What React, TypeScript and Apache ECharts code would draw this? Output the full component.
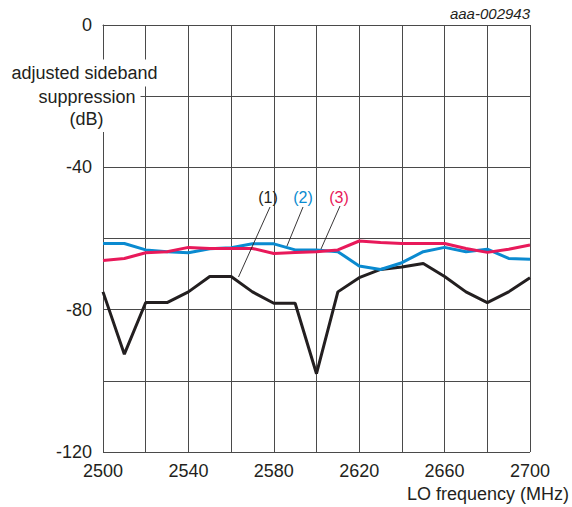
import React, { useEffect, useRef } from "react";
import * as echarts from "echarts";

const freqs = [2500, 2510, 2520, 2530, 2540, 2550, 2560, 2570, 2580, 2590, 2600, 2610, 2620, 2630, 2640, 2650, 2660, 2670, 2680, 2690, 2700];
const series1 = [-75, -92.5, -78, -78, -75, -70.7, -70.7, -75, -78.2, -78.2, -98, -75, -71, -68.7, -68, -67, -70.7, -75, -78, -75, -71];
const series2 = [-61.4, -61.4, -63.2, -63.7, -64, -62.9, -62.6, -61.5, -61.5, -63.2, -63.2, -63.7, -67.7, -68.7, -66.8, -63.7, -62.5, -63.7, -63, -65.6, -65.8];
const series3 = [-66.2, -65.6, -64, -63.7, -62.5, -62.8, -62.8, -62.8, -64.2, -63.9, -63.7, -63.2, -60.7, -61.1, -61.4, -61.4, -61.4, -62.8, -63.9, -63, -61.8];
const seriesNames = ["(1)", "(2)", "(3)"];
const xTickLabels = [2500, 2540, 2580, 2620, 2660, 2700];
const yTickLabels = [0, -40, -80, -120];

const COLORS = ["#231f20", "#0a8ad0", "#e8195a"];
const GRID = "#4a4a4a";
const FONT = "Liberation Sans, Arial, sans-serif";

export default function App() {
  const ref = useRef<HTMLDivElement>(null);
  useEffect(() => {
    if (!ref.current) return;
    const chart = echarts.init(ref.current, null, { renderer: "svg" });
    const mk = (vals: number[]) => freqs.map((f, i) => [f, vals[i]]);
    const textStyle = (text: string, x: number, y: number, extra: any = {}) => ({
      type: "text",
      z: 100,
      style: {
        text,
        x,
        y,
        fill: "#231f20",
        font: `18px ${FONT}`,
        align: "center",
        verticalAlign: "middle",
        ...extra,
      },
    });
    chart.setOption({
      animation: false,
      backgroundColor: "#ffffff",
      grid: { left: 103, right: 42, top: 25, bottom: 55, containLabel: false },
      xAxis: {
        type: "value",
        min: 2500,
        max: 2700,
        interval: 20,
        axisLine: { show: true, lineStyle: { color: GRID, width: 1 } },
        axisTick: { show: false },
        splitLine: { show: true, lineStyle: { color: GRID, width: 1 } },
        axisLabel: {
          margin: 10,
          color: "#231f20",
          fontSize: 18,
          fontFamily: FONT,
          formatter: (v: number) => (xTickLabels.includes(v) ? String(v) : ""),
        },
      },
      yAxis: {
        type: "value",
        min: -120,
        max: 0,
        interval: 20,
        axisLine: { show: true, lineStyle: { color: GRID, width: 1 } },
        axisTick: { show: false },
        splitLine: { show: true, lineStyle: { color: GRID, width: 1 } },
        axisLabel: {
          margin: 11,
          color: "#231f20",
          fontSize: 18,
          fontFamily: FONT,
          formatter: (v: number) => (yTickLabels.includes(v) ? String(v) : ""),
        },
      },
      series: [
        { name: seriesNames[0], type: "line", data: mk(series1), symbol: "none", z: 3, lineStyle: { color: COLORS[0], width: 3 }, itemStyle: { color: COLORS[0] } },
        { name: seriesNames[1], type: "line", data: mk(series2), symbol: "none", z: 4, lineStyle: { color: COLORS[1], width: 3 }, itemStyle: { color: COLORS[1] } },
        { name: seriesNames[2], type: "line", data: mk(series3), symbol: "none", z: 5, lineStyle: { color: COLORS[2], width: 3 }, itemStyle: { color: COLORS[2] } },
      ],
      graphic: [
        textStyle("adjusted sideband", 84.5, 73, { backgroundColor: "#fff", padding: [4, 3, 5, 3] }),
        textStyle("suppression", 87, 97, { backgroundColor: "#fff", padding: [3, 5, 3, 5] }),
        textStyle("(dB)", 86.5, 119, { backgroundColor: "#fff", padding: [3, 5, 5, 5] }),
        textStyle("LO frequency (MHz)", 569, 494, { align: "right" }),
        textStyle("aaa-002943", 530, 13, { align: "right", font: `italic 15px ${FONT}` }),
        textStyle(seriesNames[0], 268, 197, { fill: COLORS[0], font: `16px ${FONT}` }),
        textStyle(seriesNames[1], 303, 197, { fill: COLORS[1], font: `16px ${FONT}` }),
        textStyle(seriesNames[2], 339, 197, { fill: COLORS[2], font: `16px ${FONT}` }),
        { type: "line", z: 100, shape: { x1: 270, y1: 207, x2: 238.5, y2: 277 }, style: { stroke: "#231f20", lineWidth: 0.9 } },
        { type: "line", z: 100, shape: { x1: 303, y1: 207, x2: 287, y2: 246 }, style: { stroke: "#231f20", lineWidth: 0.9 } },
        { type: "line", z: 100, shape: { x1: 340, y1: 206, x2: 321, y2: 249 }, style: { stroke: "#231f20", lineWidth: 0.9 } },
      ],
    });
    return () => chart.dispose();
  }, []);
  return <div ref={ref} style={{ position: "absolute", left: 0, top: 0, width: 572, height: 507 }} />;
}
